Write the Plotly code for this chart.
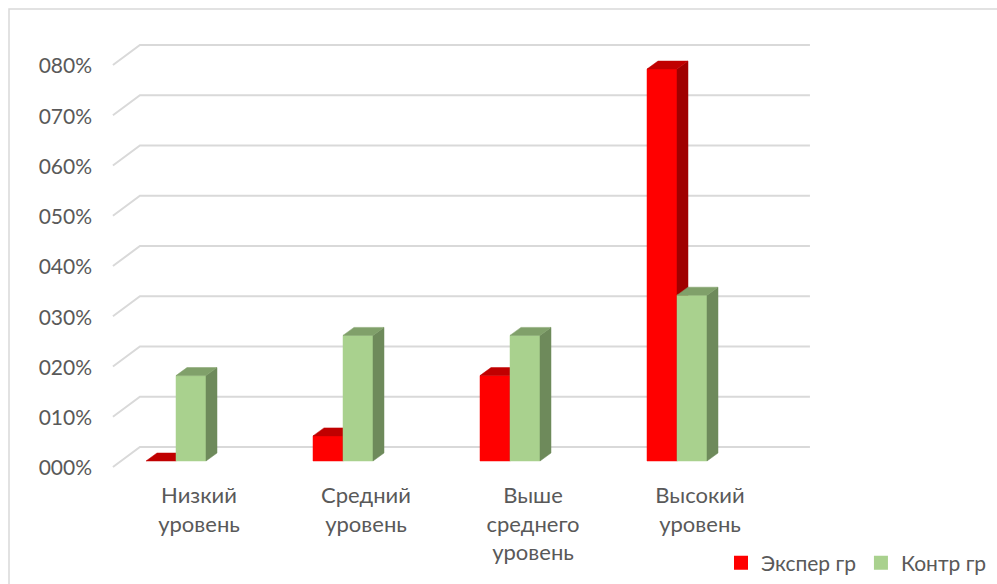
import plotly.graph_objects as go

# ---------------- data ----------------
categories = ["Низкий<br>уровень", "Средний<br>уровень", "Выше<br>среднего<br>уровень", "Высокий<br>уровень"]
series_names = ["Экспер гр", "Контр гр"]
exper_values = [0.00, 0.05, 0.17, 0.78]
kontr_values = [0.17, 0.25, 0.25, 0.33]
tick_values = [0.0, 0.1, 0.2, 0.3, 0.4, 0.5, 0.6, 0.7, 0.8]
tick_labels = ["000%", "010%", "020%", "030%", "040%", "050%", "060%", "070%", "080%"]

# ---------------- styling / geometry ----------------
W, H = 997, 584
L, R, T, B = 100, 177, 30, 109          # margins (px)
PX_X = 167.0                            # px per category unit
PX_Y = 502.5                            # px per 1.0 value
CAT0_PX = 176                           # px of category 0 (front plane)
ZERO_PX = 461                           # px of value 0 (front plane)

plot_w = W - L - R
plot_h = H - T - B
x_range = [(L - CAT0_PX) / PX_X, (L + plot_w - CAT0_PX) / PX_X]
y_range = [(ZERO_PX - (T + plot_h)) / PX_Y, (ZERO_PX - T) / PX_Y]

ux = 1.0 / PX_X
uy = 1.0 / PX_Y
bar_w = 30 * ux
depth_dx, depth_dy = 11 * ux, 8 * uy     # bar depth
floor_dx, floor_dy = -8 * ux, -6 * uy    # front edge of floor relative to bar plane
back_dx, back_dy = 19 * ux, 14 * uy      # back wall relative to bar plane
wall_left = -0.216
wall_right = 3.796

colors = {
    "Экспер гр": dict(front="#FF0000", top="#C00000", side="#A00000"),
    "Контр гр": dict(front="#A9D18E", top="#80A06A", side="#6E8A5B"),
}
grid_color = "#D9D9D9"
text_color = "#595959"
FONT = "Lato"

fig = go.Figure()

# gridlines (back wall + floor-side diagonal)
for v in tick_values:
    xs = [wall_left + floor_dx - back_dx, wall_left, wall_right]
    ys = [v + floor_dy, v + back_dy, v + back_dy]
    fig.add_trace(go.Scatter(x=xs, y=ys, mode="lines",
                             line=dict(color=grid_color, width=2),
                             hoverinfo="skip", showlegend=False))

def add_bar(xc_left, value, c):
    x0, x1 = xc_left, xc_left + bar_w
    if value > 0:
        # front face
        fig.add_trace(go.Scatter(x=[x0, x1, x1, x0, x0], y=[0, 0, value, value, 0],
                                 mode="lines", fill="toself", fillcolor=c["front"],
                                 line=dict(width=0.5, color=c["front"]),
                                 hoverinfo="skip", showlegend=False))
        # side face
        fig.add_trace(go.Scatter(x=[x1, x1 + depth_dx, x1 + depth_dx, x1, x1],
                                 y=[0, depth_dy, value + depth_dy, value, 0],
                                 mode="lines", fill="toself", fillcolor=c["side"],
                                 line=dict(width=0.5, color=c["side"]),
                                 hoverinfo="skip", showlegend=False))
    # top face
    fig.add_trace(go.Scatter(x=[x0, x0 + depth_dx, x1 + depth_dx, x1, x0],
                             y=[value, value + depth_dy, value + depth_dy, value, value],
                             mode="lines", fill="toself", fillcolor=c["top"],
                             line=dict(width=0.5, color=c["top"]),
                             hoverinfo="skip", showlegend=False))

for i in range(len(categories)):
    add_bar(i - bar_w, exper_values[i], colors[series_names[0]])
    add_bar(i, kontr_values[i], colors[series_names[1]])

# legend entries
for name in series_names:
    fig.add_trace(go.Scatter(x=[None], y=[None], mode="markers", name=name,
                             marker=dict(symbol="square", size=14, color=colors[name]["front"]),
                             showlegend=True))

# invisible trace for the tick-label axis
fig.add_trace(go.Scatter(x=[None], y=[None], yaxis="y2", showlegend=False, hoverinfo="skip"))

label_shift = 7 * uy
cat_label_offset = 23 * ux

fig.update_layout(
    width=W, height=H,
    margin=dict(l=L, r=R, t=T, b=B, autoexpand=False),
    paper_bgcolor="white", plot_bgcolor="white",
    font=dict(family=FONT, color=text_color, size=22),
    xaxis=dict(range=x_range, showgrid=False, zeroline=False, showline=False,
               tickmode="array", automargin=False,
               tickvals=[i + cat_label_offset for i in range(len(categories))],
               ticktext=categories, ticks="", tickfont=dict(size=22),
               ticklabelstandoff=5, fixedrange=True),
    yaxis=dict(range=y_range, showgrid=False, zeroline=False, showline=False,
               showticklabels=False, fixedrange=True, automargin=False),
    yaxis2=dict(range=[y_range[0] + label_shift, y_range[1] + label_shift],
                overlaying="y", side="left", showgrid=False, zeroline=False,
                showline=False, tickmode="array", tickvals=tick_values,
                ticktext=tick_labels, ticks="", tickfont=dict(size=21),
                ticklabelstandoff=7, fixedrange=True, automargin=False),
    legend=dict(orientation="h", x=(721 - L) / plot_w, y=(T + plot_h - 563) / plot_h,
                xanchor="left", yanchor="middle", font=dict(size=21),
                bgcolor="rgba(0,0,0,0)", itemwidth=30, tracegroupgap=0),
    shapes=[dict(type="rect", xref="paper", yref="paper",
                 x0=(9 - L) / plot_w, x1=(W + 20 - L) / plot_w,
                 y0=(T + plot_h - (H + 20)) / plot_h, y1=(T + plot_h - 9) / plot_h,
                 line=dict(color="#D9D9D9", width=1.5), fillcolor="rgba(0,0,0,0)",
                 layer="below")],
    showlegend=True,
)

fig.write_html("out.html")
